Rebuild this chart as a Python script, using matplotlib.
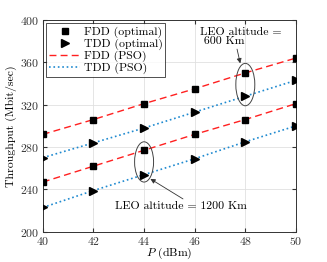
import matplotlib
matplotlib.use('Agg')
import matplotlib.pyplot as plt
from matplotlib.patches import Ellipse

plt.rcParams['font.family'] = 'serif'
plt.rcParams['font.serif'] = ['cmr10', 'DejaVu Serif']
plt.rcParams['mathtext.fontset'] = 'cm'
plt.rcParams['axes.formatter.use_mathtext'] = True

power = [40, 42, 44, 46, 48, 50]
fdd_600 = [292, 306, 321, 335, 350, 364]
tdd_600 = [270, 284, 298, 313, 328, 343]
fdd_1200 = [247, 262, 277, 292, 306, 321]
tdd_1200 = [223, 239, 254, 269, 285, 300]

fig = plt.figure(figsize=(3.27, 2.62), dpi=100)
ax = fig.add_axes([0.131, 0.115, 0.774, 0.809])

red = '#ff2020'
blue = '#1f8ad0'

for i, (f, t) in enumerate([(fdd_600, tdd_600), (fdd_1200, tdd_1200)]):
    ax.plot(power, f, 's', color='black', ms=4.5, label='FDD (optimal)' if i == 0 else None, zorder=3)
    ax.plot(power, t, '>', color='black', ms=6, label='TDD (optimal)' if i == 0 else None, zorder=3)
for i, (f, t) in enumerate([(fdd_600, tdd_600), (fdd_1200, tdd_1200)]):
    ax.plot(power, f, '--', color=red, lw=1.0, dashes=(5, 3), label='FDD (PSO)' if i == 0 else None, zorder=2)
    ax.plot(power, t, ':', color=blue, lw=1.2, label='TDD (PSO)' if i == 0 else None, zorder=2)

ax.set_xlim(40, 50)
ax.set_ylim(200, 400)
ax.set_xticks(power)
ax.set_yticks([200, 240, 280, 320, 360, 400])
ax.grid(True, color='#e0e0e0', lw=0.6)
ax.tick_params(direction='in', labelsize=8.5, length=3, pad=2.5, top=True, right=True, colors='#333333')
for s in ax.spines.values():
    s.set_color('#333333')
    s.set_linewidth(0.7)
ax.set_xlabel('$P$ (dBm)', fontsize=8.5, labelpad=-1)
ax.set_ylabel('Throughput (Mbit/sec)', fontsize=8.5, labelpad=2)

leg = ax.legend(loc='upper left', fontsize=8.5, frameon=True, fancybox=False, edgecolor='black',
                borderaxespad=0.3, handlelength=2.6, labelspacing=0.05, borderpad=0.25, handletextpad=0.3)
leg.get_frame().set_linewidth(0.6)

ax.add_patch(Ellipse((48, 339), 0.75, 40, fill=False, ec='#444444', lw=0.7, zorder=4))
ax.add_patch(Ellipse((44, 266), 0.75, 38, fill=False, ec='#444444', lw=0.7, zorder=4))

ax.annotate('LEO altitude =\n 600 Km', xy=(47.8, 359), xytext=(46.2, 393), fontsize=8.5,
            va='top', ha='left', linespacing=1.0,
            arrowprops=dict(arrowstyle='-|>', color='#333333', lw=0.6, mutation_scale=7,
                            shrinkA=0, shrinkB=0, relpos=(0.45, 0)))
ax.annotate('LEO altitude = 1200 Km', xy=(44.25, 250), xytext=(42.85, 224), fontsize=8.5,
            va='center', ha='left',
            arrowprops=dict(arrowstyle='-|>', color='#333333', lw=0.6, mutation_scale=7,
                            shrinkA=0, shrinkB=0, relpos=(0.55, 1.0)))

fig.savefig('out.png', dpi=100)
